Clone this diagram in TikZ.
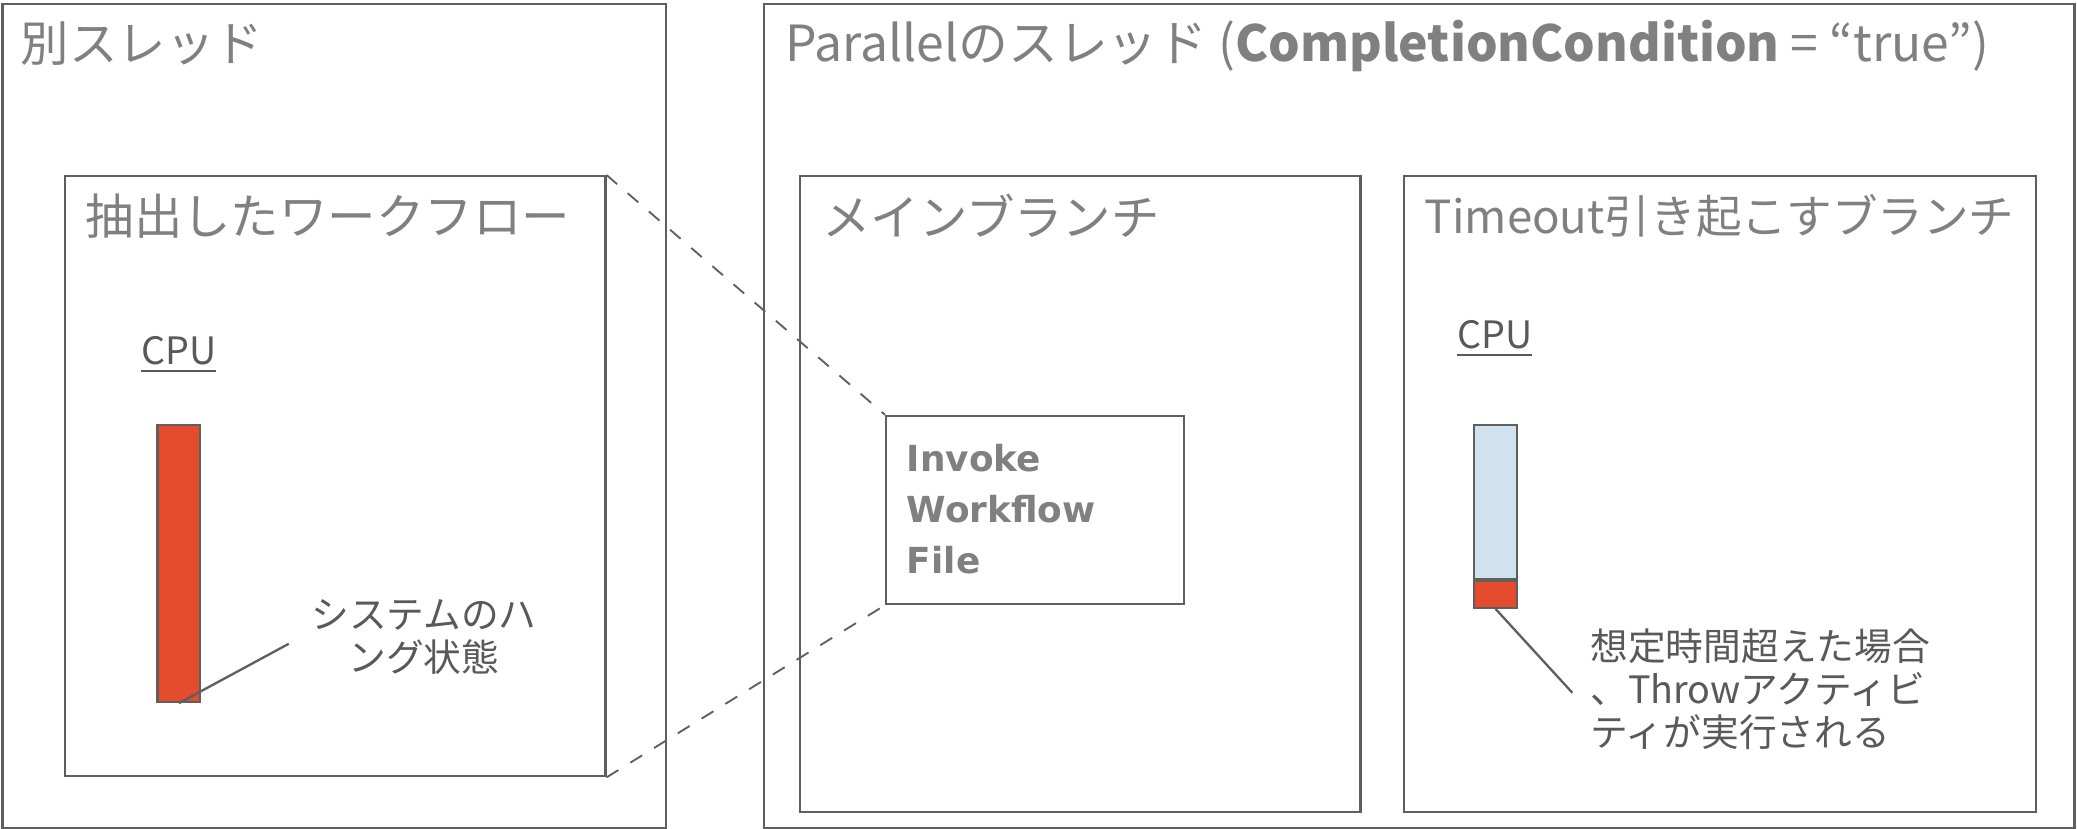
\documentclass[tikz,border=0pt]{standalone}
\usepackage{fontspec}
\setmainfont{Noto Sans CJK JP}
\newfontfamily\boldlatin{DejaVu Sans}
\usepackage{tikz}
\usetikzlibrary{positioning}

\definecolor{txtgray}{HTML}{808080}
\definecolor{linegray}{HTML}{5F5F5F}
\definecolor{notegray}{HTML}{595959}
\definecolor{hangred}{HTML}{E54C2E}
\definecolor{idleblue}{HTML}{CFE2EE}

\tikzset{
  frame/.style={draw=linegray, line width=0.5pt, rectangle, inner sep=0pt},
  title/.style={anchor=west, inner sep=0pt, text=txtgray, font=\fontsize{10.4}{12.5}\selectfont},
  note/.style={inner sep=0pt, text=notegray, font=\fontsize{8.1}{9.2}\selectfont},
  cpubar/.style={draw=linegray, line width=0.5pt, rectangle, inner sep=0pt, minimum width=0.32cm}
}

\begin{document}
\begin{tikzpicture}
\useasboundingbox (0,0) rectangle (15.68,-6.258);

% threads
\node[frame, minimum width=5.01cm, minimum height=6.22cm] (other) at (2.525,-3.14) {};
\node[frame, minimum width=9.89cm, minimum height=6.22cm] (parallel) at (10.715,-3.14) {};
\node[title] (othertitle) at (0.15,-0.33) {別スレッド};
\node[title, font=\fontsize{10.7}{12.8}\selectfont] (paralleltitle) at (5.92,-0.35) {Parallelのスレッド (\textbf{CompletionCondition} = “true”)};

% extracted workflow
\node[frame, minimum width=4.08cm, minimum height=4.53cm] (extracted) at (2.53,-3.595) {};
\node[title] (extractedtitle) at (0.64,-1.63) {抽出したワークフロー};
\node[note] (cpuleft) at (1.35,-2.68) {\underline{CPU}};
\node[cpubar, fill=hangred, minimum height=2.09cm] (hangbar) at (1.35,-4.255) {};
\node[note, align=center] (hangnote) at (3.20,-4.81) {システムのハ\\ング状態};
\coordinate (hangend) at (2.18,-4.86);
\draw[linegray, line width=0.5pt] (hangbar.south) -- (hangend);

% branches
\node[frame, minimum width=4.23cm, minimum height=4.80cm] (mainbranch) at (8.155,-3.73) {};
\node[title] (maintitle) at (6.20,-1.63) {メインブランチ};
\node[frame, minimum width=2.25cm, minimum height=1.42cm] (invoke) at (7.815,-3.85) {};
\node[anchor=west, inner sep=0pt, text=txtgray, align=left,
  font=\boldlatin\bfseries\fontsize{7.7}{11}\selectfont] (invoketext) at (6.84,-3.845)
  {Invoke\\Workflow\\File};

\node[frame, minimum width=4.77cm, minimum height=4.80cm] (timeout) at (12.985,-3.73) {};
\node[title, font=\fontsize{9.8}{11.8}\selectfont] (timeouttitle) at (10.75,-1.63) {Timeout引き起こすブランチ};
\node[note] (cpuright) at (11.285,-2.56) {\underline{CPU}};
\node[cpubar, fill=idleblue, minimum height=1.16cm] (idlebar) at (11.29,-3.79) {};
\node[cpubar, fill=hangred, minimum height=0.2cm, below=0pt of idlebar] (throwbar) {};
\node[note, anchor=west, align=left, font=\fontsize{8.1}{9.25}\selectfont] (thrownote) at (12.00,-5.205)
  {想定時間超えた場合\\、Throwアクティビ\\ティが実行される};
\coordinate (throwend) at (11.87,-5.23);
\draw[linegray, line width=0.5pt] (throwbar.south) -- (throwend);

% zoom lines
\draw[linegray, dashed, line width=0.4pt] (extracted.north east) -- (invoke.north west);
\draw[linegray, dashed, line width=0.4pt] (extracted.south east) -- (invoke.south west);
\end{tikzpicture}
\end{document}
